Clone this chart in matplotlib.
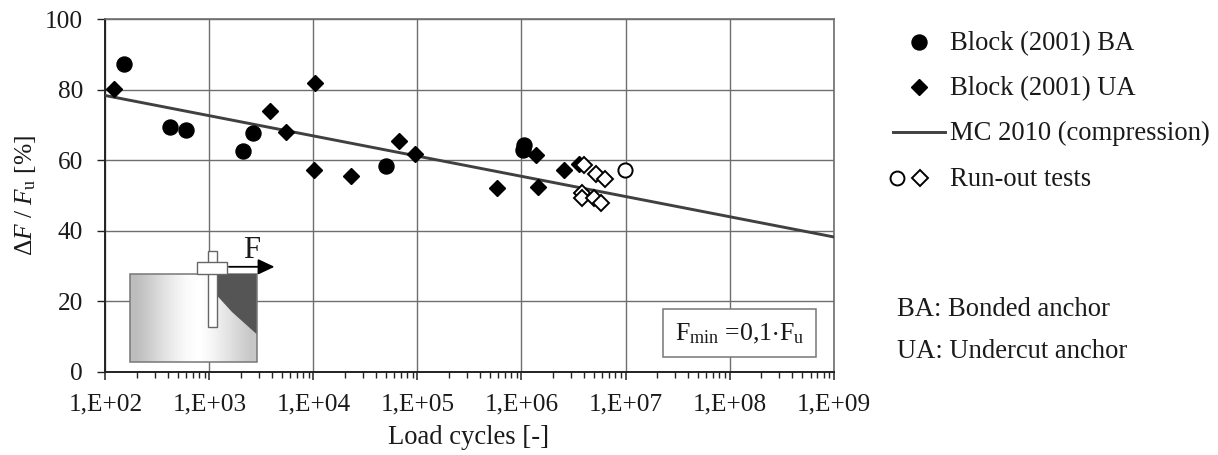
import numpy as np
import matplotlib
matplotlib.use("Agg")
import matplotlib.pyplot as plt
from matplotlib.patches import Polygon, Rectangle
from matplotlib.ticker import LogLocator, NullFormatter

plt.rcParams['font.family'] = ['Liberation Serif', 'DejaVu Serif']
plt.rcParams['mathtext.fontset'] = 'custom'
plt.rcParams['mathtext.rm'] = 'Liberation Serif'
plt.rcParams['mathtext.it'] = 'Liberation Serif:italic'
plt.rcParams['mathtext.default'] = 'regular'

# Values
ba_cycles = [150, 421, 596, 2100, 2600, 49700, 1.05e6, 1.04e6]
ba_values = [87.1, 69.4, 68.5, 62.5, 67.7, 58.4, 64.3, 62.8]

ua_cycles = [122, 3790, 5400, 10450, 10070, 23200, 66200, 95000,
             585000, 1.38e6, 1.43e6, 2.56e6, 3.57e6]
ua_values = [80.1, 74.0, 67.9, 81.8, 57.2, 55.4, 65.5, 61.6,
             52.1, 61.4, 52.3, 57.2, 58.8]

runout_ba_cycles = [9.8e6]
runout_ba_values = [57.2]

runout_ua_cycles = [4.02e6, 5.17e6, 6.4e6, 3.82e6, 3.82e6, 5.0e6, 5.78e6]
runout_ua_values = [58.5, 55.9, 54.6, 50.7, 49.2, 49.2, 47.7]

mc_cycles = [1e2, 1e9]
mc_values = [78.3, 38.2]

x_ticks = [1e2, 1e3, 1e4, 1e5, 1e6, 1e7, 1e8, 1e9]
x_labels = ['1,E+02', '1,E+03', '1,E+04', '1,E+05', '1,E+06', '1,E+07', '1,E+08', '1,E+09']
y_ticks = [0, 20, 40, 60, 80, 100]

W, H = 1218, 455
TEXT = '#1a1a1a'
GRID = '#6e6e6e'
LINE = '#404040'
FS = 19.2
FS_TICK = 18.2

fig = plt.figure(figsize=(W / 100, H / 100), dpi=100)
ax = fig.add_axes([105.3 / W, 1 - 371.6 / H, (833.6 - 105.3) / W, (371.6 - 19) / H])

ax.set_xscale('log')
ax.set_xlim(1e2, 1e9)
ax.set_ylim(0, 100)
ax.set_xticks(x_ticks)
ax.set_xticklabels(x_labels)
ax.set_yticks(y_ticks)
ax.xaxis.set_minor_locator(LogLocator(base=10, subs=np.arange(2, 10), numticks=20))
ax.xaxis.set_minor_formatter(NullFormatter())
ax.grid(True, which='major', color=GRID, linewidth=1.0)
ax.set_axisbelow(True)

ax.tick_params(axis='x', which='major', length=5.5, width=1.1, color='#222222',
               labelsize=FS_TICK, labelcolor=TEXT, pad=10)
ax.tick_params(axis='x', which='minor', length=4, width=1.0, color='#222222')
ax.tick_params(axis='y', which='major', length=5.5, width=1.0, color='#222222',
               labelsize=FS_TICK, labelcolor=TEXT, pad=10.5)

for side in ['left', 'bottom']:
    ax.spines[side].set_color('#222222')
    ax.spines[side].set_linewidth(1.4)
for side in ['top', 'right']:
    ax.spines[side].set_color(GRID)
    ax.spines[side].set_linewidth(1.2)

ax.set_xlabel('Load cycles [-]', fontsize=FS, color=TEXT, labelpad=1)
ax.xaxis.set_label_coords((469 - 105.3) / (833.6 - 105.3), -(438 - 371.6) / (371.6 - 19), )
ax.xaxis.label.set_va('center')
ax.set_ylabel(r'$\Delta\mathit{F}\ /\ \mathit{F}_{u}$ [%]', fontsize=18.4, color=TEXT)
ax.yaxis.set_label_coords(-(105.3 - 25) / (833.6 - 105.3), (371.6 - 195) / (371.6 - 19))
ax.yaxis.label.set_va('center')

ax.plot(mc_cycles, mc_values, color=LINE, linewidth=2.1, zorder=3)
ax.plot(ba_cycles, ba_values, 'o', color='black', markersize=10.8, linestyle='none', zorder=4)
ax.plot(ua_cycles, ua_values, 'D', color='black', markersize=8.2, linestyle='none', zorder=4)
ax.plot(runout_ba_cycles, runout_ba_values, 'o', mfc='white', mec='black', mew=1.4,
        markersize=10.2, linestyle='none', zorder=5)
ax.plot(runout_ua_cycles, runout_ua_values, 'D', mfc='white', mec='black', mew=1.4,
        markersize=7.8, linestyle='none', zorder=5)

# Overlay in image pixels for legend, notes and the anchor sketch
ov = fig.add_axes([0, 0, 1, 1], zorder=10)
ov.patch.set_alpha(0)
ov.axis('off')

# Anchor sketch
shade = np.array([[0.74, 0.80, 0.87, 0.93, 0.98, 1.0, 0.96, 0.90, 0.84, 0.78]])
ov.imshow(shade, cmap='gray', vmin=0, vmax=1, extent=[129.5, 256.5, 362, 274],
          aspect='auto', interpolation='bilinear', zorder=1)
ov.add_patch(Rectangle((129.5, 274), 127, 88, fill=False, ec='#777777', lw=1.1, zorder=2))
ov.add_patch(Polygon([(216.5, 274), (256.5, 274), (256.5, 334), (232, 312), (216.5, 295)],
                     fc='#555555', ec='none', zorder=2))
ov.add_patch(Rectangle((207.5, 251), 9, 76, fc='white', ec='#666666', lw=1.0, zorder=3))
ov.add_patch(Rectangle((197, 262), 29.5, 11.5, fc='white', ec='#666666', lw=1.0, zorder=4))
ov.annotate('', xy=(274.5, 266.8), xytext=(229, 266.8), zorder=4,
            arrowprops=dict(arrowstyle='-|>,head_length=1.0,head_width=0.47', color='black',
                            lw=1.3, shrinkA=0, shrinkB=0))
ov.text(251.5, 251, 'F', fontsize=22, color=TEXT, ha='center', va='center', zorder=4)

# Fmin box
ov.add_patch(Rectangle((663, 309), 152.5, 47.5, fc='white', ec='#777777', lw=1.1, zorder=2))
ov.text(739.5, 334, r'$F_{min}$ =0,1$\cdot$F$_{u}$', fontsize=18.6, color=TEXT,
        ha='center', va='center', zorder=3)

# Legend
ov.plot([919], [41.7], 'o', color='black', markersize=10.8)
ov.plot([919], [87.3], 'D', color='black', markersize=8.2)
ov.plot([892.7, 945], [132, 132], color=LINE, linewidth=2.1)
ov.plot([896.7], [178.3], 'o', mfc='white', mec='black', mew=1.4, markersize=10)
ov.plot([919.5], [178.3], 'D', mfc='white', mec='black', mew=1.4, markersize=7.8)
legend_rows = [(43.5, 'Block (2001) BA'), (88.5, 'Block (2001) UA'),
               (133.5, 'MC 2010 (compression)'), (179.5, 'Run-out tests')]
for y, label in legend_rows:
    ov.text(950, y, label, fontsize=FS, color=TEXT, ha='left', va='center')

ov.text(897, 310, 'BA: Bonded anchor', fontsize=FS, color=TEXT, ha='left', va='center')
ov.text(897, 352, 'UA: Undercut anchor', fontsize=FS, color=TEXT, ha='left', va='center')

ov.set_xlim(0, W)
ov.set_ylim(H, 0)

fig.savefig('out.png', dpi=100)
